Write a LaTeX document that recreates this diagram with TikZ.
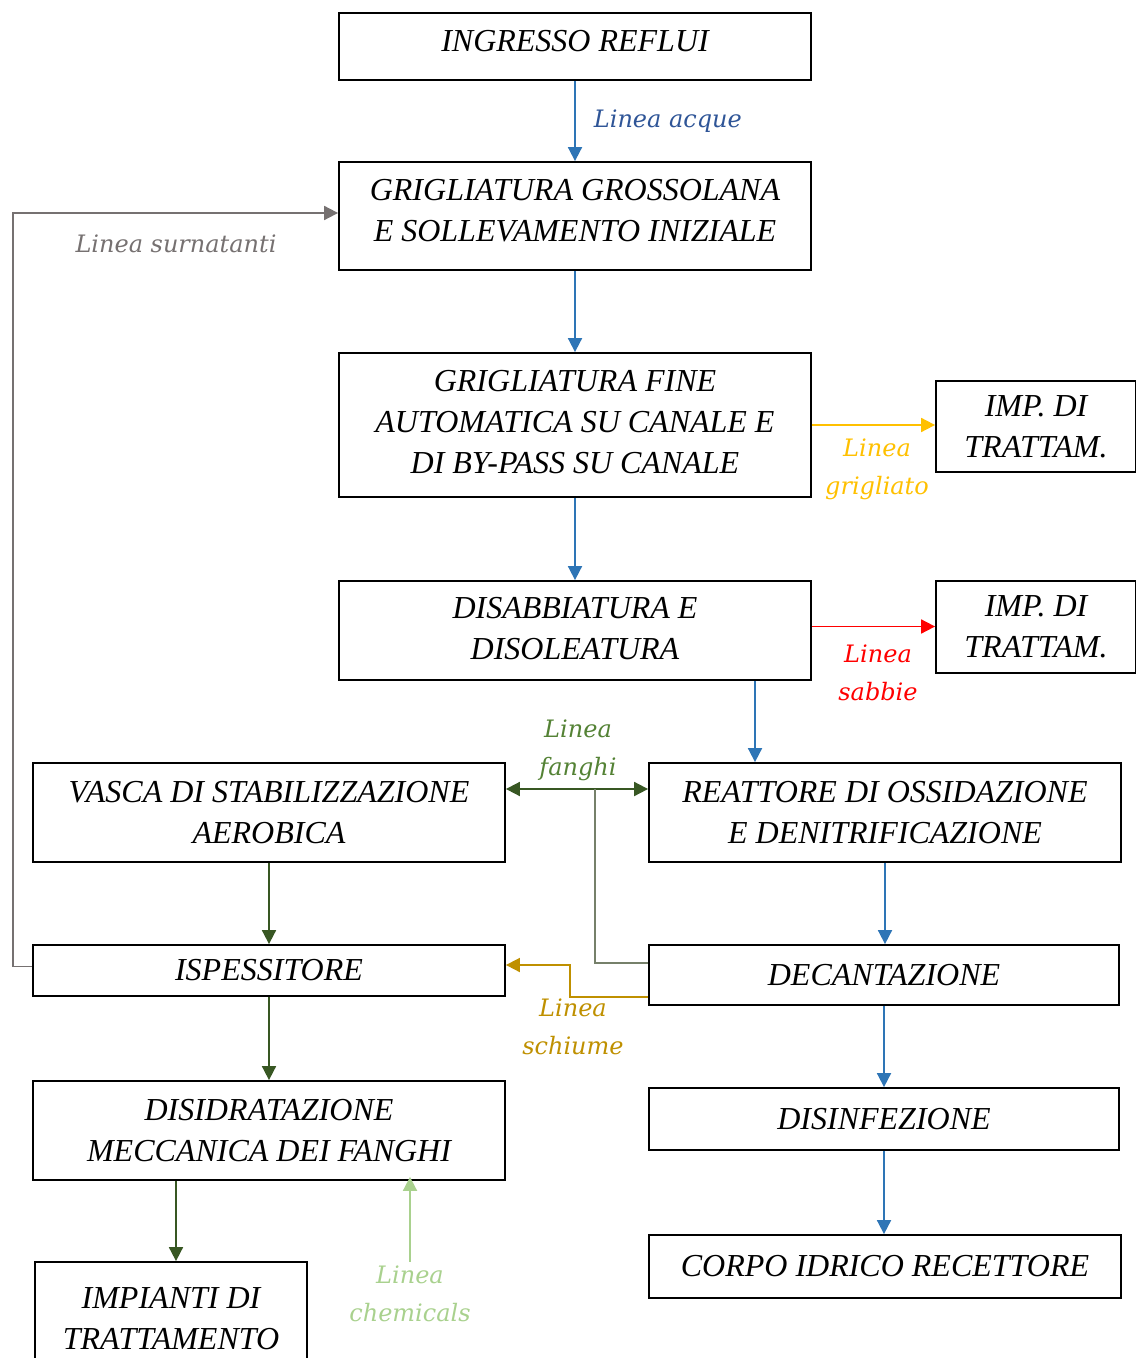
\documentclass[tikz,border=0pt]{standalone}
\usepackage{fontspec}
\setmainfont{Liberation Serif}
\newfontfamily\labelfont{DejaVu Serif}
\usetikzlibrary{arrows.meta}
\definecolor{acque}{HTML}{2E75B6}
\definecolor{acquetxt}{HTML}{2F5597}
\definecolor{grigliato}{HTML}{FFC000}
\definecolor{sabbie}{HTML}{FF0000}
\definecolor{fanghi}{HTML}{385723}
\definecolor{fanghitxt}{HTML}{548235}
\definecolor{fanghiline}{HTML}{76806A}
\definecolor{schiume}{HTML}{BF9000}
\definecolor{surnatanti}{HTML}{767171}
\definecolor{chemicals}{HTML}{A9D18E}

\begin{document}
\begin{tikzpicture}[x=0.5pt,y=-0.5pt,
  box/.style={draw, line width=0.9pt, align=center, inner sep=0pt,
    font=\fontsize{16}{20.5}\selectfont\itshape},
  flow/.style={line width=0.9pt, -{Triangle[width=7pt,length=7pt]}},
  lbl/.style={align=center, inner sep=0pt,
    font=\fontsize{12}{19}\selectfont\labelfont\itshape}]
  \useasboundingbox (0,0) rectangle (1135,1358);

  % Draw the boxes of the water line
  \node[box, minimum width=236pt, minimum height=33.5pt, text depth=5.5pt] (ingresso) at (575,46.5) {INGRESSO REFLUI};
  \node[box, minimum width=236pt, minimum height=54pt, text depth=6pt] (grossol) at (575,216) {GRIGLIATURA GROSSOLANA\\E SOLLEVAMENTO INIZIALE};
  \node[box, minimum width=236pt, minimum height=72pt, text depth=3pt] (fine) at (575,425) {GRIGLIATURA FINE\\AUTOMATICA SU CANALE E\\DI BY-PASS SU CANALE};
  \node[box, minimum width=236pt, minimum height=49.5pt, text depth=2.5pt] (disab) at (575,630.5) {DISABBIATURA E\\DISOLEATURA};
  \node[box, minimum width=236pt, minimum height=49.5pt] (reattore) at (885,812.5) {REATTORE DI OSSIDAZIONE\\E DENITRIFICAZIONE};
  \node[box, minimum width=235pt, minimum height=30pt] (decant) at (884,975) {DECANTAZIONE};
  \node[box, minimum width=235pt, minimum height=31pt] (disinf) at (884,1119) {DISINFEZIONE};
  \node[box, minimum width=236pt, minimum height=31.5pt] (corpo) at (885,1266.5) {CORPO IDRICO RECETTORE};

  % Draw the treatment boxes on the right
  \node[box, minimum width=100pt, minimum height=45.5pt] (imp1) at (1036,426.5) {IMP. DI\\TRATTAM.};
  \node[box, minimum width=100pt, minimum height=46pt] (imp2) at (1036,627) {IMP. DI\\TRATTAM.};

  % Draw the boxes of the sludge line
  \node[box, minimum width=236pt, minimum height=49.5pt] (vasca) at (269,812.5) {VASCA DI STABILIZZAZIONE\\AEROBICA};
  \node[box, minimum width=236pt, minimum height=25.5pt] (ispess) at (269,970.5) {ISPESSITORE};
  \node[box, minimum width=236pt, minimum height=49.5pt] (disidr) at (269,1130.5) {DISIDRATAZIONE\\MECCANICA DEI FANGHI};
  \node[box, minimum width=136pt, minimum height=56.5pt] (impianti) at (171,1318.5) {IMPIANTI DI\\TRATTAMENTO};

  % Draw the blue arrows of the water line
  \draw[flow, acque] (ingresso) -- (grossol) node[midway, right=9pt, lbl, text=acquetxt] (acquelbl) {Linea acque};
  \draw[flow, acque] (grossol) -- (fine);
  \draw[flow, acque] (fine) -- (disab);
  \draw[flow, acque] ([xshift=90pt]disab.south) -- ([xshift=90pt]disab.south |- reattore.north);
  \draw[flow, acque] (reattore.south) -- (reattore.south |- decant.north);
  \draw[flow, acque] (decant.south) -- (decant.south |- disinf.north);
  \draw[flow, acque] (disinf.south) -- (disinf.south |- corpo.north);

  % Draw the screenings and sand lines
  \draw[flow, grigliato] (fine.east) -- (fine.east -| imp1.west);
  \node[lbl, text=grigliato] (grigliatolbl) at (877,469) {Linea\\grigliato};
  \draw[flow, sabbie] ([yshift=2pt]disab.east) -- ([yshift=2pt]disab.east -| imp2.west);
  \node[lbl, text=sabbie] (sabbielbl) at (878,673) {Linea\\sabbie};

  % Draw the sludge line between reactor and stabilization
  \coordinate (fj) at (595,789);
  \draw[line width=0.9pt, fanghi, {Triangle[width=7pt,length=7pt]}-{Triangle[width=7pt,length=7pt]}]
    ([yshift=11.75pt]vasca.east) -- ([yshift=11.75pt]vasca.east -| reattore.west);
  \node[lbl, text=fanghitxt] (fanghilbl) at (578,750) {Linea\\fanghi};
  \draw[line width=0.9pt, fanghiline] (fj) |- ([yshift=6pt]decant.west);

  % Draw the foam line
  \coordinate (sk) at (570,965);
  \draw[flow, schiume] ([yshift=-11pt]decant.west) -| (sk) -- (sk -| ispess.east);
  \node[lbl, text=schiume] (schiumelbl) at (573,1027) {Linea\\schiume};

  % Draw the green arrows of the sludge line
  \draw[flow, fanghi] (vasca) -- (ispess);
  \draw[flow, fanghi] (ispess) -- (disidr);
  \draw[flow, fanghi] ([xshift=-46.5pt]disidr.south) -- ([xshift=-46.5pt]disidr.south |- impianti.north);

  % Draw the chemicals line
  \node[lbl, text=chemicals] (chemlbl) at (410,1294) {Linea\\chemicals};
  \draw[flow, chemicals] ([yshift=2pt]chemlbl.north) -- ([yshift=2pt]chemlbl.north |- disidr.south);

  % Draw the supernatant line back to the coarse screening
  \draw[flow, surnatanti] ([yshift=2pt]ispess.west) -- ++(-19,0) |- ([yshift=1.5pt]grossol.west);
  \node[lbl, text=surnatanti] (surnlbl) at (176,244) {Linea surnatanti};
\end{tikzpicture}
\end{document}
